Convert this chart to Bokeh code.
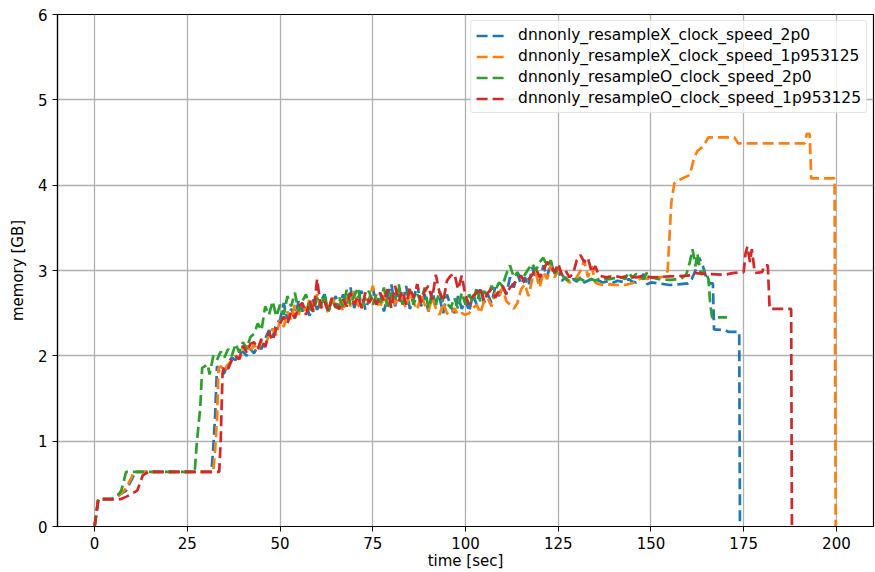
from bokeh.plotting import figure
from bokeh.models import Range1d, Legend, LegendItem, FixedTicker
from bokeh.embed import file_html
from bokeh.resources import INLINE

labels = [
    "dnnonly_resampleX_clock_speed_2p0",
    "dnnonly_resampleX_clock_speed_1p953125",
    "dnnonly_resampleO_clock_speed_2p0",
    "dnnonly_resampleO_clock_speed_1p953125",
]
colors = ["#1f77b4", "#ff7f0e", "#2ca02c", "#d62728"]

# shared sample times for the noisy middle section (sec)
t_mid = [36, 37, 38, 39, 40, 41, 42, 43, 44, 45,
         46, 47, 48, 49, 50, 51, 52, 53, 54, 55,
         56, 57, 58, 59, 60, 61, 62, 63, 64, 65,
         66, 67, 68, 69, 70, 71, 72, 73, 74, 75,
         76, 77, 78, 79, 80, 81, 82, 83, 84, 85,
         86, 87, 88, 89, 90, 91, 92, 93, 94, 95,
         96, 97, 98, 99, 100, 101, 102, 103, 104, 105,
         106, 107, 108, 109, 110, 111, 112, 113, 114, 115,
         116, 117, 118, 119, 120, 121, 122, 123, 124, 125,
         126, 127, 128, 129, 130, 131, 132, 133, 134, 135,
         136, 137, 138, 139, 140, 141, 142, 143, 144, 145,
         146, 147, 148, 149, 150]

# ---- X, 2p0 (blue)
t_x20_start = [0, 1, 5, 7, 8.5, 10, 11, 31.5, 32, 32.5, 33, 34, 35]
m_x20_start = [0, 0.32, 0.32, 0.38, 0.42, 0.55, 0.64, 0.64, 0.92, 1.3, 1.88, 1.78, 1.8]
m_x20_mid = [1.92, 1.98, 1.95, 2.02, 2.05, 2.0, 2.08, 2.03, 2.12, 2.08,
             2.2, 2.3, 2.22, 2.38, 2.42, 2.62, 2.42, 2.55, 2.46, 2.64,
             2.52, 2.6, 2.47, 2.66, 2.54, 2.64, 2.72, 2.52, 2.6, 2.7,
             2.55, 2.72, 2.6, 2.8, 2.56, 2.68, 2.76, 2.54, 2.66, 2.8,
             2.6, 2.74, 2.52, 2.7, 2.84, 2.58, 2.72, 2.6, 2.82, 2.55,
             2.66, 2.84, 2.58, 2.72, 2.52, 2.76, 2.6, 2.68, 2.5, 2.72,
             2.58, 2.5, 2.7, 2.55, 2.66, 2.52, 2.72, 2.6, 2.78, 2.62,
             2.72, 2.62, 2.8, 2.7, 2.82, 2.72, 2.92, 2.8, 2.96, 2.84,
             2.92, 2.82, 3.04, 2.9, 2.86, 3.06, 2.92, 3.1, 2.96, 3.02,
             2.88, 2.92, 2.86, 2.9, 2.87, 2.92, 2.86, 2.88, 2.9, 2.87,
             2.88, 2.86, 2.87, 2.88, 2.86, 2.88, 2.87, 2.86, 2.9, 2.87,
             2.86, 2.88, 2.96, 2.84, 2.86]
t_x20_end = [152, 155, 158, 160, 161, 162, 163, 164, 165, 166, 166.7, 167, 170, 171, 173.8, 174]
m_x20_end = [2.85, 2.83, 2.84, 2.85, 2.9, 3.0, 3.15, 3.05, 2.9, 2.85, 2.85, 2.31, 2.3, 2.28, 2.28, 0]

# ---- X, 1p953125 (orange)
t_x19_start = [0, 1, 5, 7, 8.5, 10, 10.5, 32, 32.5, 33, 33.4, 34, 35]
m_x19_start = [0, 0.32, 0.32, 0.38, 0.45, 0.58, 0.64, 0.64, 0.9, 1.25, 1.85, 1.88, 1.82]
m_x19_mid = [1.9, 1.95, 2.0, 1.96, 2.06, 2.12, 2.04, 2.14, 2.06, 2.18,
             2.12, 2.24, 2.32, 2.24, 2.42, 2.34, 2.52, 2.42, 2.6, 2.48,
             2.62, 2.5, 2.68, 2.54, 2.72, 2.56, 2.64, 2.5, 2.7, 2.58,
             2.66, 2.52, 2.72, 2.58, 2.76, 2.6, 2.54, 2.7, 2.62, 2.82,
             2.64, 2.56, 2.74, 2.55, 2.7, 2.6, 2.8, 2.64, 2.56, 2.74,
             2.62, 2.54, 2.72, 2.6, 2.52, 2.68, 2.56, 2.48, 2.62, 2.5,
             2.48, 2.56, 2.48, 2.5, 2.48, 2.5, 2.56, 2.6, 2.5, 2.64,
             2.68, 2.58, 2.74, 2.68, 2.8, 2.64, 2.6, 2.55, 2.62, 2.78,
             2.84, 2.7, 2.9, 2.96, 2.8, 2.98, 2.9, 3.06, 2.92, 3.0,
             2.95, 2.9, 2.86, 2.88, 2.92, 3.0, 3.12, 2.92, 3.05, 2.86,
             2.84, 2.83, 2.83, 2.84, 2.83, 2.83, 2.84, 2.83, 2.84, 2.85,
             2.88, 2.9, 2.91, 2.9, 2.92]
t_x19_end = [152, 154, 154.5, 155, 155.5, 156.3, 158, 160.5, 161.5, 162.5, 164, 165.5, 168,
             172.5, 173.5, 191.5, 192, 192.8, 193.2, 199.5, 199.8]
m_x19_end = [2.92, 2.93, 3.0, 3.4, 3.8, 4.02, 4.07, 4.12, 4.3, 4.4, 4.45, 4.56, 4.56,
             4.56, 4.49, 4.49, 4.6, 4.6, 4.08, 4.08, 0]

# ---- O, 2p0 (green)
t_o20_start = [0, 1, 4.5, 6.5, 7.2, 8.5, 27, 27.5, 28.5, 29, 30.5, 31, 32, 33, 34, 35]
m_o20_start = [0, 0.32, 0.32, 0.38, 0.42, 0.64, 0.64, 0.95, 1.4, 1.86, 1.9, 1.78, 2.0, 1.95, 2.05, 1.98]
m_o20_mid = [2.08, 2.0, 2.14, 2.04, 2.16, 2.08, 2.22, 2.26, 2.38, 2.3,
             2.58, 2.48, 2.64, 2.46, 2.6, 2.48, 2.7, 2.58, 2.74, 2.52,
             2.64, 2.72, 2.55, 2.52, 2.68, 2.58, 2.72, 2.52, 2.66, 2.56,
             2.68, 2.58, 2.78, 2.6, 2.7, 2.8, 2.58, 2.68, 2.76, 2.6,
             2.72, 2.62, 2.8, 2.58, 2.74, 2.64, 2.84, 2.6, 2.72, 2.78,
             2.6, 2.72, 2.64, 2.8, 2.56, 2.7, 2.6, 2.76, 2.64, 2.62,
             2.56, 2.68, 2.55, 2.74, 2.6, 2.72, 2.62, 2.8, 2.64, 2.76,
             2.7, 2.82, 2.76, 2.86, 2.82, 2.96, 3.06, 2.92, 2.98, 2.9,
             2.95, 3.02, 3.08, 3.0, 3.1, 3.15, 3.05, 3.12, 2.96, 3.02,
             2.95, 2.9, 2.88, 2.9, 2.89, 2.9, 2.88, 2.89, 2.9, 2.88,
             2.9, 2.89, 2.9, 2.9, 2.91, 2.9, 2.92, 2.9, 2.98, 2.91,
             2.96, 2.93, 2.9, 2.98, 2.92]
t_o20_end = [152, 155, 158, 159.5, 160.5, 161.2, 162, 162.5, 163.5, 164.5, 165.5, 166, 166.5, 170.5]
m_o20_end = [2.9, 2.89, 2.9, 2.95, 3.1, 3.25, 3.05, 3.2, 2.95, 3.0, 2.9, 2.6, 2.45, 2.45]

# ---- O, 1p953125 (red)
t_o19_start = [0, 1, 7, 8.6, 11.5, 13, 14.5, 33.6, 34, 34.5, 35]
m_o19_start = [0, 0.32, 0.32, 0.35, 0.42, 0.6, 0.64, 0.64, 1.0, 1.8, 1.88]
m_o19_mid = [1.85, 1.95, 2.0, 1.96, 2.12, 2.04, 2.14, 2.16, 2.08, 2.2,
             2.1, 2.28, 2.18, 2.32, 2.38, 2.46, 2.38, 2.52, 2.44, 2.58,
             2.62, 2.48, 2.64, 2.52, 2.9, 2.56, 2.64, 2.52, 2.68, 2.58,
             2.55, 2.66, 2.58, 2.74, 2.6, 2.7, 2.56, 2.74, 2.62, 2.7,
             2.6, 2.74, 2.64, 2.78, 2.56, 2.82, 2.64, 2.76, 2.6, 2.8,
             2.68, 2.84, 2.62, 2.76, 2.82, 2.66, 2.95, 2.74, 2.64, 2.88,
             2.94, 2.96, 2.78, 2.94, 2.7, 2.6, 2.7, 2.74, 2.8, 2.64,
             2.74, 2.78, 2.68, 2.76, 2.82, 2.72, 2.8, 2.84, 2.9, 2.94,
             2.85, 2.9, 2.95, 3.02, 2.92, 3.0, 3.1, 3.05, 2.98, 3.08,
             2.95, 3.0, 2.92, 2.96, 3.12, 3.18, 3.1, 3.15, 2.98, 3.05,
             2.94, 2.93, 2.92, 2.93, 2.92, 2.93, 2.92, 2.93, 2.92, 2.93,
             2.92, 2.93, 2.94, 2.93, 2.92]
t_o19_end = [155, 160, 162, 165, 170, 172, 175, 175.5, 176, 176.7, 177.2, 178, 180, 180.5,
             181.5, 182, 187.8, 188]
m_o19_end = [2.93, 2.94, 2.97, 2.96, 2.95, 2.97, 2.98, 3.2, 3.28, 3.1, 3.25, 2.97, 2.98, 3.06,
             3.06, 2.55, 2.55, 0]

series = [
    (t_x20_start + t_mid + t_x20_end, m_x20_start + m_x20_mid + m_x20_end),
    (t_x19_start + t_mid + t_x19_end, m_x19_start + m_x19_mid + m_x19_end),
    (t_o20_start + t_mid + t_o20_end, m_o20_start + m_o20_mid + m_o20_end),
    (t_o19_start + t_mid + t_o19_end, m_o19_start + m_o19_mid + m_o19_end),
]

x_ticks = [0, 25, 50, 75, 100, 125, 150, 175, 200]
y_ticks = [0, 1, 2, 3, 4, 5, 6]

p = figure(width=875, height=572, output_backend="svg", toolbar_location=None,
           x_range=Range1d(-10, 210), y_range=Range1d(0, 6),
           min_border_left=57, min_border_right=2, min_border_top=14, min_border_bottom=44)

p.background_fill_color = "white"
p.border_fill_color = "white"
p.outline_line_color = "black"
p.outline_line_width = 1.2
p.outline_line_alpha = 1.0

for ax in (p.xaxis[0], p.yaxis[0]):
    ax.major_label_text_font = "DejaVu Sans"
    ax.major_label_text_font_size = "15px"
    ax.major_label_text_color = "black"
    ax.axis_label_text_font = "DejaVu Sans"
    ax.axis_label_text_font_size = "15px"
    ax.axis_label_text_font_style = "normal"
    ax.axis_label_text_color = "black"
    ax.major_tick_out = 5
    ax.major_tick_in = 0
    ax.minor_tick_out = 0
    ax.minor_tick_in = 0
    ax.axis_line_color = "black"
    ax.major_tick_line_color = "black"
    ax.axis_line_width = 1.2

p.xaxis.ticker = FixedTicker(ticks=x_ticks)
p.yaxis.ticker = FixedTicker(ticks=y_ticks)
p.xaxis.axis_label = "time [sec]"
p.yaxis.axis_label = "memory [GB]"
p.xaxis.major_label_standoff = 5
p.yaxis.major_label_standoff = 5
p.xaxis.axis_label_standoff = 0
p.yaxis.axis_label_standoff = 8

p.xgrid.grid_line_color = "#b0b0b0"
p.ygrid.grid_line_color = "#b0b0b0"
p.xgrid.grid_line_width = 1.3
p.ygrid.grid_line_width = 1.3

items = []
for (t, m), c, lab in zip(series, colors, labels):
    r = p.line(t, m, line_color=c, line_width=2.7, line_dash="11 5")
    items.append(LegendItem(label=lab, renderers=[r]))

legend = Legend(items=items, location="top_right")
legend.label_text_font = "DejaVu Sans"
legend.label_text_font_size = "15.5px"
legend.label_text_color = "black"
legend.glyph_width = 30
legend.glyph_height = 17
legend.label_standoff = 12
legend.spacing = 3
legend.padding = 5
legend.margin = 6
legend.border_line_color = "#cccccc"
legend.border_line_width = 1
legend.border_radius = 3
legend.background_fill_alpha = 0.8
p.add_layout(legend)

open("out.html", "w").write(file_html(p, INLINE))
